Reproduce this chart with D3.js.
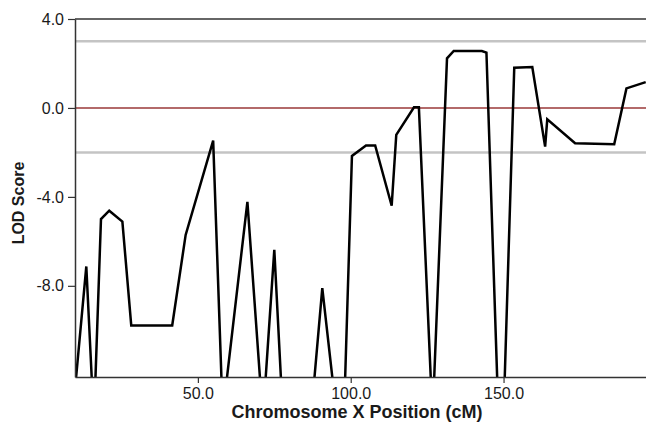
<!DOCTYPE html>
<html>
<head>
<meta charset="utf-8">
<script src="https://cdn.jsdelivr.net/npm/d3@7"></script>
<style>
  body { margin: 0; background: #fff; }
  text { font-family: "Liberation Sans", Arial, sans-serif; fill: #1a1a1a; }
</style>
</head>
<body>
<div id="chart"></div>
<script>
// marker positions (cM) and LOD scores
// (-12.5 = off the bottom of the scale, clipped)
var positions = [9.9, 13.5, 15.4, 16.4, 18.3, 21.0, 25.3, 28.2, 41.6, 46.0, 55.0, 57.8,
                 59.2, 66.2, 70.5, 72.0, 75.0, 77.3, 87.9, 90.7, 94.3, 98.1, 100.4, 105.0,
                 108.0, 113.4, 114.9, 120.7, 122.3, 126.3, 127.2, 131.5, 133.7, 142.9, 144.4,
                 148.0, 150.3, 153.5, 159.4, 163.6, 164.3, 173.4, 186.2, 190.2, 196.5];
var lodScores = [-12.5, -7.13, -12.5, -12.5, -5.0, -4.62, -5.11, -9.78, -9.78, -5.71, -1.47, -12.5,
                 -12.5, -4.22, -12.5, -12.5, -6.38, -12.5, -12.5, -8.1, -12.5, -12.5, -2.16, -1.69,
                 -1.69, -4.4, -1.21, 0.03, 0.03, -12.5, -12.5, 2.23, 2.56, 2.56, 2.49,
                 -12.5, -12.5, 1.81, 1.84, -1.74, -0.51, -1.59, -1.63, 0.88, 1.16];
var yTicks = [4, 0, -4, -8];
var xTicks = [50, 100, 150];
var thresholdLines = [3, -2];

var data = positions.map(function(p, i) { return {pos: p, lod: lodScores[i]}; });

var margin = {top: 19, right: 0, bottom: 46, left: 75},
    width = 646 - margin.left - margin.right,
    height = 423 - margin.top - margin.bottom;

var svg = d3.select("#chart")
    .append("svg")
    .attr("width", 646)
    .attr("height", 423)
    .append("g")
    .attr("transform", "translate(" + margin.left + "," + margin.top + ")");

var x = d3.scaleLinear()
    .domain([9.8, 196.6])
    .range([0, width]);

var y = d3.scaleLinear()
    .domain([-12.1, 4])
    .range([height, 0]);

var fmt = function(d) { return d.toFixed(1); };

// threshold lines
svg.selectAll(".thresh")
    .data(thresholdLines)
    .enter().append("line")
    .attr("x1", 0).attr("x2", width)
    .attr("y1", function(d) { return y(d); })
    .attr("y2", function(d) { return y(d); })
    .attr("stroke", "#c4c4c4")
    .attr("stroke-width", 2.5);

// zero line
svg.append("line")
    .attr("x1", 0).attr("x2", width)
    .attr("y1", y(0)).attr("y2", y(0))
    .attr("stroke", "#b36a6a")
    .attr("stroke-width", 2);

// top border
svg.append("line")
    .attr("x1", 0).attr("x2", width)
    .attr("y1", y(4)).attr("y2", y(4))
    .attr("stroke", "#333")
    .attr("stroke-width", 1.5);

// LOD curve
svg.append("clipPath").attr("id", "clip")
    .append("rect").attr("x", 0).attr("y", -2).attr("width", width).attr("height", height + 2);

svg.append("path")
    .datum(data)
    .attr("clip-path", "url(#clip)")
    .attr("fill", "none")
    .attr("stroke", "#000")
    .attr("stroke-width", 2.5)
    .attr("d", d3.line()
        .x(function(d) { return x(d.pos); })
        .y(function(d) { return y(d.lod); })
    );

// axes
var xAxis = svg.append("g")
    .attr("transform", "translate(0," + height + ")")
    .call(d3.axisBottom(x).tickValues(xTicks).tickFormat(fmt).tickSize(6).tickPadding(5).tickSizeOuter(0));

var yAxis = svg.append("g")
    .call(d3.axisLeft(y).tickValues(yTicks).tickFormat(fmt).tickSize(7).tickPadding(4).tickSizeOuter(0));

[xAxis, yAxis].forEach(function(a) {
    a.select(".domain").attr("stroke", "#333").attr("stroke-width", 1.5);
    a.selectAll(".tick line").attr("stroke", "#333").attr("stroke-width", 1.2);
    a.selectAll(".tick text").attr("font-size", 16).attr("fill", "#1a1a1a")
        .style("font-family", "Liberation Sans, Arial, sans-serif");
});

// axis titles
svg.append("text")
    .attr("x", 357 - margin.left)
    .attr("y", 418 - margin.top)
    .attr("text-anchor", "middle")
    .attr("font-size", 18)
    .attr("font-weight", "bold")
    .text("Chromosome X Position (cM)");

svg.append("text")
    .attr("transform", "translate(" + (24 - margin.left) + "," + (203 - margin.top) + ") rotate(-90)")
    .attr("text-anchor", "middle")
    .attr("font-size", 16)
    .attr("font-weight", "bold")
    .text("LOD Score");
</script>
</body>
</html>
